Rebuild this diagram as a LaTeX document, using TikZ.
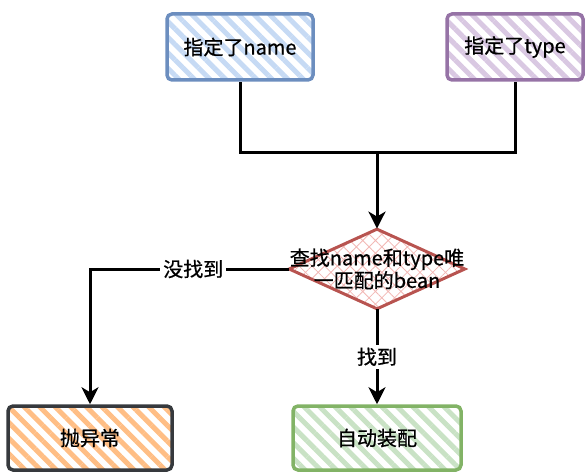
\documentclass[tikz,border=0pt]{standalone}
\usepackage{fontspec}
\setmainfont{Noto Sans CJK SC}[FakeBold=0.7]
\usetikzlibrary{arrows.meta, positioning, shapes.geometric, patterns.meta}
\definecolor{nameline}{HTML}{6C8EBF}
\definecolor{namefill}{HTML}{C6DAF4}
\definecolor{typeline}{HTML}{9673A6}
\definecolor{typefill}{HTML}{D9C8E2}
\definecolor{findline}{HTML}{B85450}
\definecolor{findfill}{HTML}{F2B8B5}
\definecolor{throwline}{HTML}{36393D}
\definecolor{throwfill}{HTML}{FFBE85}
\definecolor{wireline}{HTML}{82B366}
\definecolor{wirefill}{HTML}{C9E2C5}

\begin{document}
\begin{tikzpicture}[x=1pt, y=-1pt,
  every node/.style={font=\fontsize{20}{22}\selectfont},
  sketchbox/.style={draw, line width=3.5pt, rounded corners=5pt, minimum height=66pt},
  hatched/.style={pattern={Lines[angle=-45, distance=11pt, line width=5pt]}, pattern color=#1},
  decision/.style={diamond, draw=findline, line width=3pt, inner sep=0pt,
    pattern={Hatch[angle=45, distance=9pt, line width=0.8pt]}, pattern color=findfill},
  flow/.style={line width=3pt, -{Stealth[length=17pt, width=17pt, inset=5pt]}},
  edgelabel/.style={fill=white, inner sep=3pt}]
  \useasboundingbox (0,0) rectangle (587,476);
  % top: the two starting cases
  \node[sketchbox, draw=nameline, hatched=namefill, minimum width=146pt] (name) at (240,47) {指定了name};
  \node[sketchbox, draw=typeline, hatched=typefill, minimum width=136pt] (type) at (515,47) {指定了type};
  \coordinate (join) at (377,153);

  % middle: the lookup
  \node[decision, minimum width=176pt, minimum height=80pt,
    label={[align=center, font=\fontsize{20}{21}\selectfont]center:查找name和type唯\\一匹配的bean}] (find) at (377,269) {};

  % bottom: the outcomes
  \node[sketchbox, draw=throwline, hatched=throwfill, minimum width=164pt, minimum height=64pt] (throw) at (90,438) {抛异常};
  \node[sketchbox, draw=wireline, hatched=wirefill, minimum width=168pt, minimum height=64pt] (wire) at (377,438) {自动装配};

  \draw[line width=3pt] (name.south) |- (join) -| (type.south);
  \draw[flow] (join) -- (find.north);
  \draw[flow] (find.west) -| node[edgelabel, pos=0.24] {没找到} (throw.north);
  \draw[flow] (find.south) -- node[edgelabel] {找到} (wire.north);
\end{tikzpicture}
\end{document}
